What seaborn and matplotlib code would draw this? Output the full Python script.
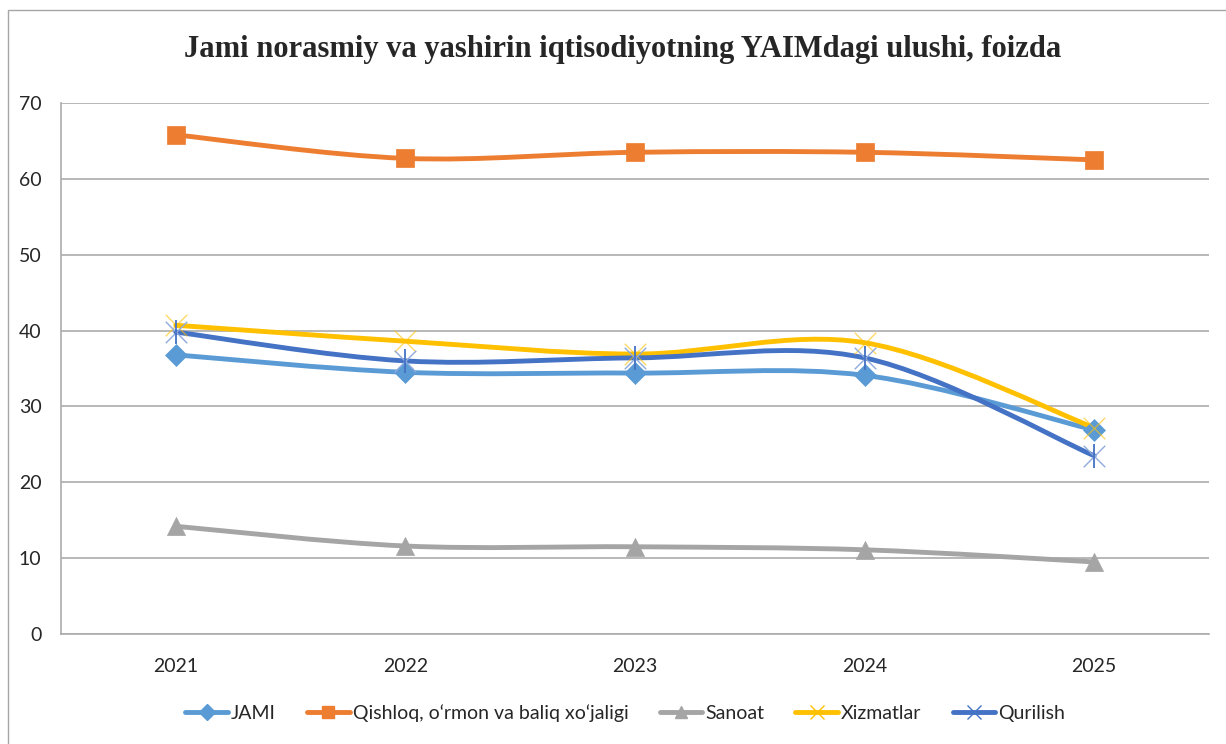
import numpy as np
import pandas as pd
import matplotlib
matplotlib.use("Agg")
import matplotlib.pyplot as plt
from matplotlib.path import Path
from matplotlib.patches import PathPatch, Rectangle
from matplotlib.lines import Line2D
import seaborn as sns

# ========== data ==========
years = ["2021", "2022", "2023", "2024", "2025"]
jami = [36.8, 34.5, 34.4, 34.1, 26.9]
qishloq = [65.8, 62.7, 63.5, 63.5, 62.5]
sanoat = [14.2, 11.6, 11.5, 11.1, 9.5]
xizmatlar = [40.7, 38.6, 36.9, 38.4, 27.2]
qurilish = [39.8, 36.0, 36.4, 36.4, 23.5]

series_names = ["JAMI", "Qishloq, o\u2018rmon va baliq xo\u2018jaligi", "Sanoat", "Xizmatlar", "Qurilish"]
series_values = [jami, qishloq, sanoat, xizmatlar, qurilish]

colors = ["#5B9BD5", "#ED7D31", "#A5A5A5", "#FFC000", "#4472C4"]
markers = ["D", "s", "^", "x", "*"]

df = pd.DataFrame({
    "idx": np.tile(np.arange(len(years)), len(series_names)),
    "value": np.concatenate(series_values),
    "series": np.repeat(series_names, len(years)),
})

sns.set_style("white")
plt.rcParams["font.family"] = ["Lato", "DejaVu Sans"]

fig = plt.figure(figsize=(12.26, 7.44), dpi=100)
ax = fig.add_axes([61 / 1226, 110 / 744, 1148 / 1226, 531 / 744])

# outer chart frame
fig.patches.append(Rectangle((8 / 1226, -0.05), 1.1, 1 - 10 / 744 + 0.05,
                             transform=fig.transFigure, fill=False,
                             edgecolor="#A6A6A6", lw=1.0, zorder=0))


def smooth_path(xs, ys):
    # Excel-like smoothed line: cubic bezier through every point
    pts = np.column_stack([xs, ys]).astype(float)
    n = len(pts)
    verts = [pts[0]]
    codes = [Path.MOVETO]
    for i in range(n - 1):
        p0 = pts[max(i - 1, 0)]
        p1 = pts[i]
        p2 = pts[i + 1]
        p3 = pts[min(i + 2, n - 1)]
        c1 = p1 + (p2 - p0) / 6.0
        c2 = p2 - (p3 - p1) / 6.0
        verts += [c1, c2, p2]
        codes += [Path.CURVE4] * 3
    return Path(verts, codes)


for k, name in enumerate(series_names):
    sub = df[df["series"] == name]
    patch = PathPatch(smooth_path(sub["idx"], sub["value"]), fill=False,
                      edgecolor=colors[k], lw=3.5, capstyle="round",
                      joinstyle="round", zorder=2 + k)
    ax.add_patch(patch)

for k, name in enumerate(series_names):
    sub = df[df["series"] == name]
    m = markers[k]
    if m == "x":
        sns.scatterplot(data=sub, x="idx", y="value", marker=m, s=240,
                        color=colors[k], linewidth=1.0, alpha=0.6,
                        ax=ax, zorder=10 + k, legend=False)
    elif m == "*":
        sns.scatterplot(data=sub, x="idx", y="value", marker="x", s=240,
                        color="#8FAADC", linewidth=1.0, ax=ax,
                        zorder=10 + k, legend=False)
        sns.scatterplot(data=sub, x="idx", y="value", marker="|", s=300,
                        color=colors[k], linewidth=1.3, ax=ax,
                        zorder=11 + k, legend=False)
    else:
        size = {"D": 125, "s": 160, "^": 170}[m]
        sns.scatterplot(data=sub, x="idx", y="value", marker=m, s=size,
                        color=colors[k], edgecolor=colors[k], linewidth=0.5,
                        ax=ax, zorder=10 + k, legend=False)

ax.set_xlim(-0.5, len(years) - 0.5)
ax.set_ylim(0, 70)
ax.set_xticks(range(len(years)))
ax.set_xticklabels(years)
ax.set_yticks(range(0, 71, 10))
ax.set_xlabel("")
ax.set_ylabel("")
ax.grid(axis="y", color="#ABABAB", lw=1.2)
ax.grid(axis="x", visible=False)
ax.set_axisbelow(True)
for s in ["top", "right"]:
    ax.spines[s].set_visible(False)
for s in ["left", "bottom"]:
    ax.spines[s].set_color("#ABABAB")
    ax.spines[s].set_linewidth(1.2)
ax.tick_params(axis="both", length=0, labelsize=14, colors="#262626")
ax.tick_params(axis="y", pad=14)
ax.tick_params(axis="x", pad=17)

fig.text(0.508, 1 - 49 / 744, "Jami norasmiy va yashirin iqtisodiyotning YAIMdagi ulushi, foizda",
         ha="center", va="center", fontsize=22, fontweight="bold",
         family=["Liberation Serif", "DejaVu Serif"])

handles = []
for k, name in enumerate(series_names):
    m = markers[k]
    if m == "*":
        m = "x"
    handles.append(Line2D([0], [0], color=colors[k], lw=3.5, marker=m,
                          markersize=8 if m in "Ds^" else 10,
                          markeredgewidth=1.0))
fig.legend(handles, series_names, loc="center", bbox_to_anchor=(0.51, 1 - 713 / 744),
           ncol=5, frameon=False, fontsize=14, handlelength=2.2,
           handletextpad=0.15, columnspacing=1.6)

fig.savefig("out.png", dpi=100, facecolor="white")
